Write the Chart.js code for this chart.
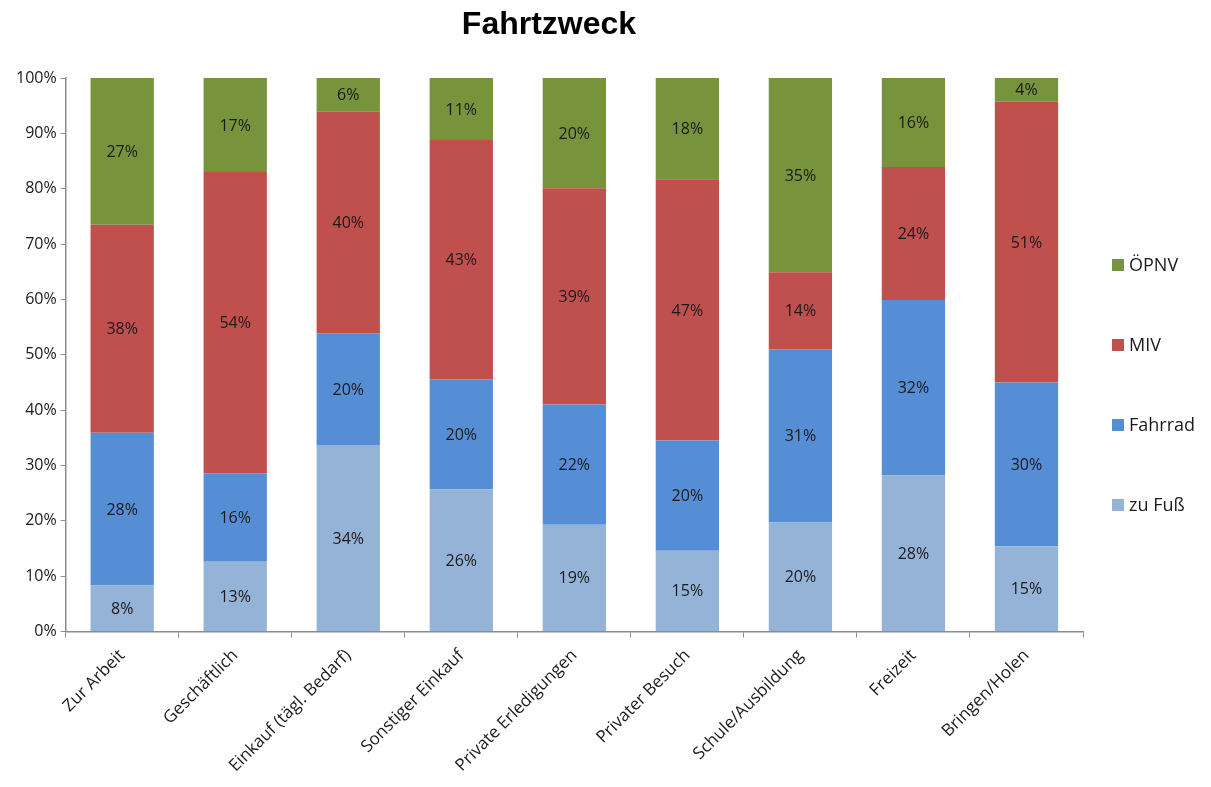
<!DOCTYPE html>
<html>
<head>
<meta charset="utf-8">
<script src="https://cdn.jsdelivr.net/npm/chart.js@4.4.1/dist/chart.umd.min.js"></script>
<style>
  html, body { margin: 0; padding: 0; background: #fff; }
  #wrap { width: 1211px; height: 787px; position: relative; }
</style>
</head>
<body>
<div id="wrap"><canvas id="chart"></canvas></div>
<script>
// Fahrtzweck - Anteile je Verkehrsmittel (in %)
var categories = ["Zur Arbeit", "Geschäftlich", "Einkauf (tägl. Bedarf)", "Sonstiger Einkauf",
                  "Private Erledigungen", "Privater Besuch", "Schule/Ausbildung", "Freizeit", "Bringen/Holen"];
var zuFuss  = [8.3, 12.6, 33.7, 25.7, 19.3, 14.6, 19.7, 28.2, 15.4];
var fahrrad = [27.6, 16.0, 20.2, 19.9, 21.7, 19.9, 31.3, 31.7, 29.6];
var miv     = [37.6, 54.4, 40.0, 43.2, 39.1, 47.2, 13.9, 24.0, 50.7];
var oepnv   = [26.5, 17.0, 6.1, 11.2, 19.9, 18.3, 35.1, 16.1, 4.3];
var yTicks  = [0, 10, 20, 30, 40, 50, 60, 70, 80, 90, 100];

var font = "'Open Sans', 'Liberation Sans', sans-serif";

// Prozentwerte mittig in die Segmente schreiben
var segmentLabels = {
    id: "segmentLabels",
    afterDatasetsDraw: function(chart) {
        var ctx = chart.ctx;
        ctx.save();
        ctx.font = "16px " + font;
        ctx.fillStyle = "#1a1a1a";
        ctx.textAlign = "center";
        ctx.textBaseline = "middle";
        chart.data.datasets.forEach(function(ds, i) {
            chart.getDatasetMeta(i).data.forEach(function(bar, j) {
                var mid = (bar.y + bar.base) / 2;
                ctx.fillText(Math.round(ds.data[j]) + "%", bar.x, mid + 1);
            });
        });
        ctx.restore();
    }
};

// Titel (über dem Diagrammbereich, nicht über der ganzen Leinwand zentriert)
var titlePlugin = {
    id: "titleText",
    afterDraw: function(chart) {
        var ctx = chart.ctx;
        ctx.save();
        ctx.font = "bold 32px 'Liberation Sans', Arial, sans-serif";
        ctx.fillStyle = "#000";
        ctx.textAlign = "center";
        ctx.textBaseline = "middle";
        ctx.fillText("Fahrtzweck", 549, 25);
        ctx.restore();
    }
};

// Legende rechts, umgekehrte Reihenfolge
var sideLegend = {
    id: "sideLegend",
    afterDraw: function(chart) {
        var ctx = chart.ctx;
        var x = chart.chartArea.right + 29;
        var y = 265, step = 80;
        ctx.save();
        ctx.font = "18px " + font;
        ctx.textBaseline = "middle";
        ctx.textAlign = "left";
        chart.data.datasets.slice().reverse().forEach(function(ds, k) {
            var cy = y + k * step;
            ctx.fillStyle = ds.backgroundColor;
            ctx.fillRect(x, cy - 6, 12, 12);
            ctx.fillStyle = "#1a1a1a";
            ctx.fillText(ds.label, x + 17, cy + 1);
        });
        ctx.restore();
    }
};

new Chart(document.getElementById("chart"), {
    type: "bar",
    data: {
        labels: categories,
        datasets: [
            { label: "zu Fuß",  data: zuFuss,  backgroundColor: "#95B3D7" },
            { label: "Fahrrad", data: fahrrad, backgroundColor: "#558ED5" },
            { label: "MIV",     data: miv,     backgroundColor: "#C0504D" },
            { label: "ÖPNV",    data: oepnv,   backgroundColor: "#77933C" }
        ]
    },
    options: {
        responsive: true,
        maintainAspectRatio: false,
        animation: false,
        layout: { padding: { top: 78, left: 12, right: 128, bottom: 3 } },
        datasets: { bar: { categoryPercentage: 1, barPercentage: 0.56 } },
        plugins: {
            title: { display: false },
            tooltip: { enabled: false },
            legend: { display: false }
        },
        scales: {
            x: {
                stacked: true,
                grid: { display: true, drawOnChartArea: false, drawTicks: true, tickLength: 6, color: "#8c8c8c" },
                border: { color: "#8c8c8c", width: 1.5 },
                ticks: {
                    color: "#1a1a1a", maxRotation: 45, minRotation: 45, autoSkip: false, padding: 8,
                    font: { family: font, size: 17 }
                }
            },
            y: {
                stacked: true,
                min: 0, max: 100,
                afterBuildTicks: function(axis) {
                    axis.ticks = yTicks.map(function(v) { return { value: v }; });
                },
                grid: { display: true, drawOnChartArea: false, drawTicks: true, tickLength: 5, color: "#8c8c8c" },
                border: { color: "#8c8c8c", width: 1.5 },
                ticks: {
                    color: "#1a1a1a", padding: 4,
                    font: { family: font, size: 16 },
                    callback: function(v) { return v + "%"; }
                }
            }
        }
    },
    plugins: [segmentLabels, titlePlugin, sideLegend]
});
</script>
</body>
</html>
